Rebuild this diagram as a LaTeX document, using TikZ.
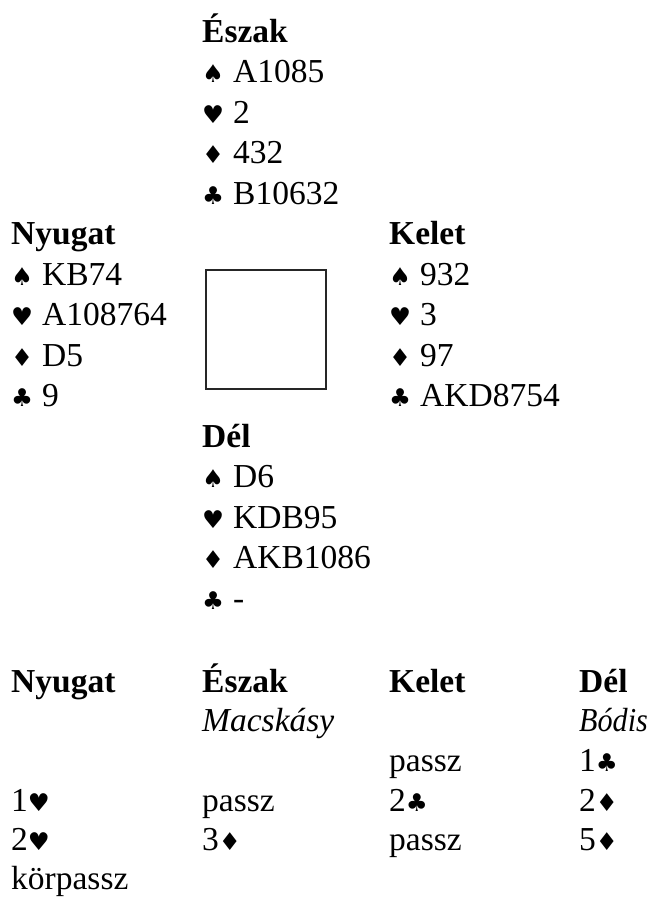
\documentclass[tikz,border=0pt]{standalone}
\usepackage{fontspec}
\usepackage{graphicx}
\setmainfont{Liberation Serif}
\newfontfamily\suitfont{DejaVu Sans}
\newcommand\suitsym[1]{{\suitfont\fontsize{24.5pt}{24.5pt}\selectfont #1}}
\newcommand\SpS{\suitsym{♠}}
\newcommand\HeS{\suitsym{♥}}
\newcommand\DiS{\suitsym{♦}}
\newcommand\ClS{\suitsym{♣}}
\newcommand\handline[2]{\makebox[31pt][l]{#1}#2}
\tikzset{
  txt/.style={anchor=base west, inner sep=0pt, font=\fontsize{33.5pt}{33.5pt}\selectfont},
  hd/.style={anchor=base west, inner sep=0pt, font=\fontsize{33.5pt}{33.5pt}\selectfont\bfseries},
  it/.style={anchor=base west, inner sep=0pt, font=\fontsize{33.5pt}{33.5pt}\selectfont\itshape},
  tablebox/.style={draw=black!85, line width=1.6pt, inner sep=0pt}
}
\begin{document}
\begin{tikzpicture}[x=1pt,y=1pt]
\useasboundingbox (0,0) rectangle (651,-898);
% North
\node[hd]  (nN)  at (202,-42)    {Észak};
\node[txt] (nS)  at (202,-82.5)  {\handline{\SpS}{A1085}};
\node[txt] (nH)  at (202,-123)   {\handline{\HeS}{2}};
\node[txt] (nD)  at (202,-163.5) {\handline{\DiS}{432}};
\node[txt] (nC)  at (202,-204)   {\handline{\ClS}{B10632}};
% West
\node[hd]  (wN)  at (11,-244.5)  {Nyugat};
\node[txt] (wS)  at (11,-285)    {\handline{\SpS}{KB74}};
\node[txt] (wH)  at (11,-325.5)  {\handline{\HeS}{A108764}};
\node[txt] (wD)  at (11,-366)    {\handline{\DiS}{D5}};
\node[txt] (wC)  at (11,-406.5)  {\handline{\ClS}{9}};
% East
\node[hd]  (eN)  at (389,-244.5) {Kelet};
\node[txt] (eS)  at (389,-285)   {\handline{\SpS}{932}};
\node[txt] (eH)  at (389,-325.5) {\handline{\HeS}{3}};
\node[txt] (eD)  at (389,-366)   {\handline{\DiS}{97}};
\node[txt] (eC)  at (389,-406.5) {\handline{\ClS}{AKD8754}};
% South
\node[hd]  (sN)  at (202,-447)   {Dél};
\node[txt] (sS)  at (202,-487.5) {\handline{\SpS}{D6}};
\node[txt] (sH)  at (202,-528)   {\handline{\HeS}{KDB95}};
\node[txt] (sD)  at (202,-568.5) {\handline{\DiS}{AKB1086}};
\node[txt] (sC)  at (202,-609)   {\handline{\ClS}{-}};
% Table
\node[tablebox, minimum width=120pt, minimum height=119pt, anchor=north west] (table) at (205,-269) {};
% Bidding
\node[hd] (bW) at (11,-692)  {Nyugat};
\node[hd] (bN) at (202,-692) {Észak};
\node[hd] (bE) at (389,-692) {Kelet};
\node[hd] (bS) at (579,-692) {Dél};
\node[it] (pN) at (202,-731) {Macskásy};
\node[it] (pS) at (579,-731) {\scalebox{0.9}[1]{Bódis}};
\node[txt] (r1E) at (389,-771) {passz};
\node[txt] (r1S) at (579,-771) {1\ClS};
\node[txt] (r2W) at (11,-811)  {1\HeS};
\node[txt] (r2N) at (202,-811) {passz};
\node[txt] (r2E) at (389,-811) {2\ClS};
\node[txt] (r2S) at (579,-811) {2\DiS};
\node[txt] (r3W) at (11,-850)  {2\HeS};
\node[txt] (r3N) at (202,-850) {3\DiS};
\node[txt] (r3E) at (389,-850) {passz};
\node[txt] (r3S) at (579,-850) {5\DiS};
\node[txt] (r4W) at (11,-889)  {körpassz};
\end{tikzpicture}
\end{document}
